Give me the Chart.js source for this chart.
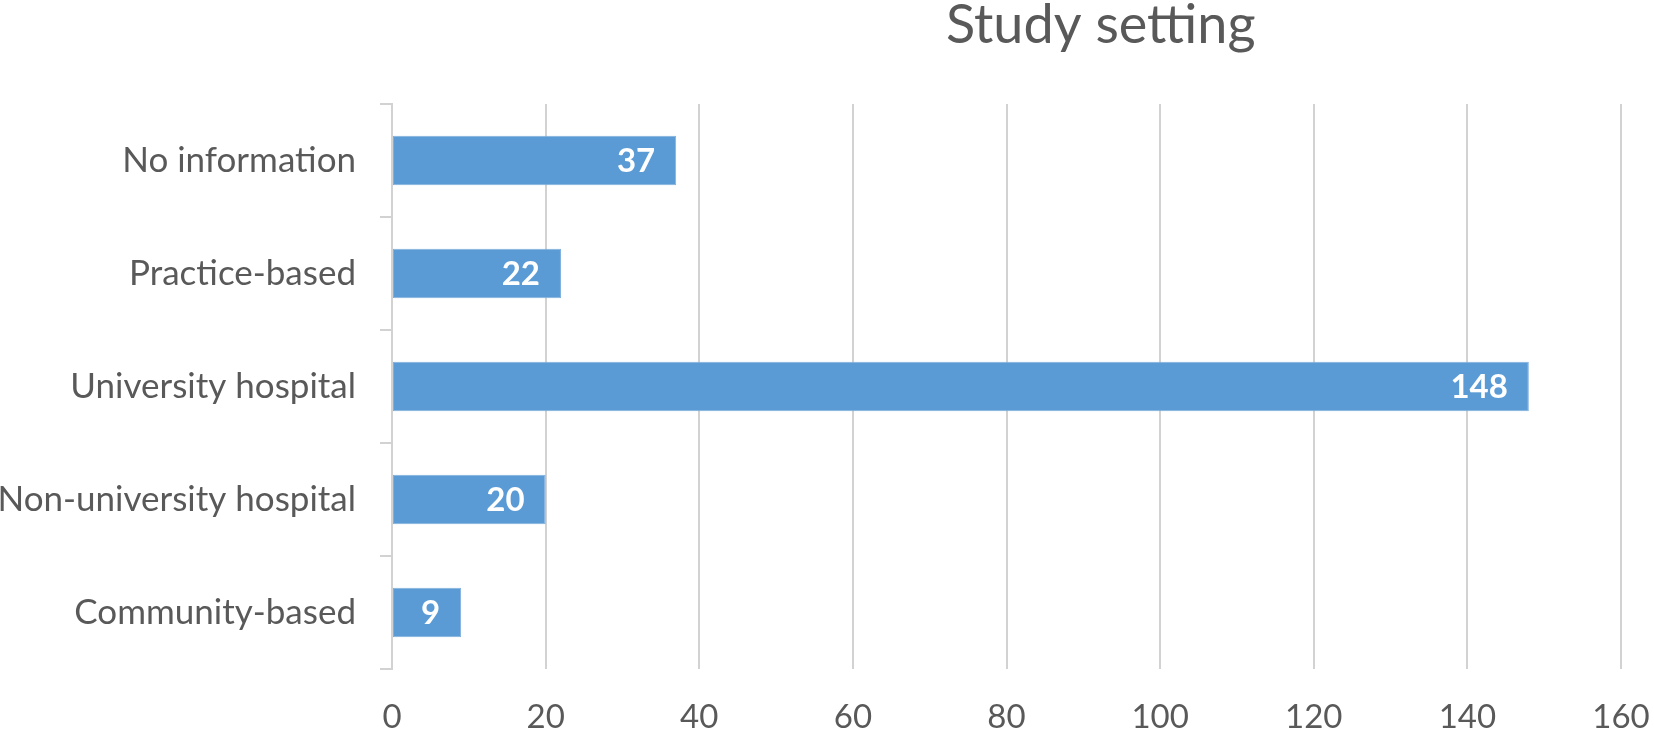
<!DOCTYPE html>
<html>
<head>
<meta charset="utf-8">
<script src="https://cdn.jsdelivr.net/npm/chart.js@4/dist/chart.umd.min.js"></script>
<style>
  html, body { margin: 0; padding: 0; background: #ffffff; }
  #wrap { width: 1654px; height: 735px; position: relative; }
</style>
</head>
<body>
<div id="wrap"><canvas id="c" width="1654" height="735"></canvas></div>
<script>
const chartTitle = "Study setting";
const categories = ["No information", "Practice-based", "University hospital", "Non-university hospital", "Community-based"];
const values = [37, 22, 148, 20, 9];
const axisMin = 0;
const axisMax = 160;
const axisStep = 20;

const FONT = "Lato, 'Open Sans', sans-serif";
const TEXT = "#595959";
const GRID = "#d2d2d2";
const BAR = "#5b9bd5";

const barLabels = {
  id: "barLabels",
  afterDatasetsDraw(chart) {
    const ctx = chart.ctx;
    const meta = chart.getDatasetMeta(0);
    ctx.save();
    ctx.fillStyle = "#ffffff";
    ctx.font = "bold 33px " + FONT;
    ctx.textAlign = "right";
    ctx.textBaseline = "middle";
    meta.data.forEach((bar, i) => {
      ctx.fillText(String(values[i]), bar.x - 21, bar.y + 1);
    });
    ctx.restore();
  }
};

const titlePlugin = {
  id: "customTitle",
  afterDraw(chart) {
    const ctx = chart.ctx;
    ctx.save();
    ctx.fillStyle = TEXT;
    ctx.font = "54px " + FONT;
    ctx.textAlign = "center";
    ctx.textBaseline = "alphabetic";
    ctx.fillText(chartTitle, chart.width * 0.6655, 43);
    ctx.restore();
  }
};

new Chart(document.getElementById("c"), {
  type: "bar",
  data: {
    labels: categories,
    datasets: [{
      data: values,
      backgroundColor: BAR,
      borderColor: "#7fb0dd",
      borderWidth: 1,
      borderSkipped: false,
      barPercentage: 0.44,
      categoryPercentage: 1.0
    }]
  },
  options: {
    indexAxis: "y",
    responsive: false,
    animation: false,
    devicePixelRatio: 1,
    layout: { padding: { top: 104, right: 33, left: 0, bottom: 0 } },
    plugins: {
      legend: { display: false },
      tooltip: { enabled: false },
      title: { display: false }
    },
    scales: {
      x: {
        type: "linear",
        min: axisMin,
        max: axisMax,
        ticks: {
          stepSize: axisStep,
          color: TEXT,
          font: { family: FONT, size: 33 },
          padding: 29
        },
        grid: {
          color: GRID,
          lineWidth: 2,
          drawTicks: false
        },
        border: { display: false },
        afterFit(scale) { scale.height = 66; scale.paddingRight = 0; scale.paddingLeft = 0; }
      },
      y: {
        type: "category",
        offset: true,
        ticks: {
          color: TEXT,
          font: { family: FONT, size: 35 },
          padding: 24
        },
        grid: {
          offset: true,
          drawOnChartArea: false,
          drawTicks: true,
          tickLength: 12,
          color: GRID,
          lineWidth: 2
        },
        border: { display: true, color: GRID, width: 2 },
        afterFit(scale) { scale.width = 392; }
      }
    }
  },
  plugins: [barLabels, titlePlugin]
});
</script>
</body>
</html>
